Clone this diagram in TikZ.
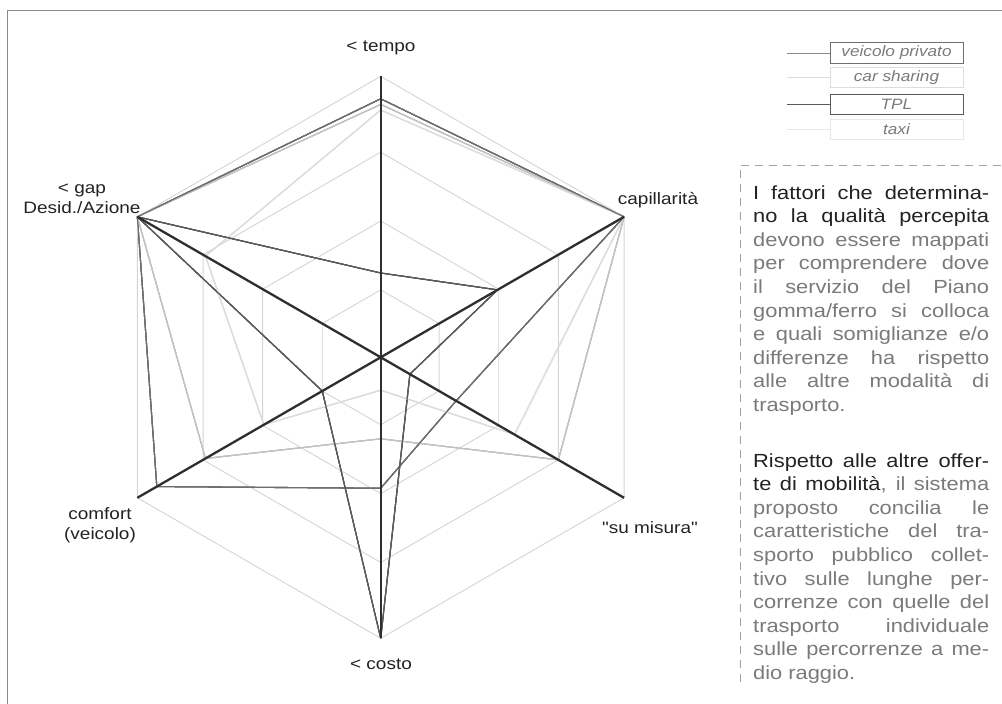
\documentclass[tikz,border=0pt]{standalone}
\usepackage{fontspec}
\setmainfont{Liberation Sans}[FakeStretch=1.15]
\font\quotefont="Liberation Sans:extend=1.15" at 16.5pt
\definecolor{framegray}{HTML}{8A8A8A}
\definecolor{gridgray}{HTML}{D4D4D4}
\definecolor{axisgray}{HTML}{2E2E2E}
\definecolor{vpgray}{HTML}{6E6E6E}
\definecolor{tplgray}{HTML}{5A5A5A}
\definecolor{csgray}{HTML}{C2C2C2}
\definecolor{taxigray}{HTML}{DDDDDD}
\definecolor{textdark}{HTML}{222222}
\definecolor{textgray}{HTML}{7A7A7A}
\definecolor{dashgray}{HTML}{A0A0A0}
\newcommand{\rad}{281}
% one polygon: tempo, capillarita, su misura, costo, comfort, gap
\newcommand{\radarline}[7]{%
  \draw[#1] (90:{#2*\rad}) -- (30:{#3*\rad}) -- (-30:{#4*\rad}) -- (-90:{#5*\rad})
    -- (210:{#6*\rad}) -- (150:{#7*\rad}) -- cycle;}
\begin{document}
\begin{tikzpicture}[x=1pt, y=-1pt,
    grid/.style={draw=gridgray, line width=0.9pt},
    axis/.style={draw=axisgray, line width=2.3pt},
    serie/.style={line width=1.1pt, line join=round},
    lbl/.style={font=\fontsize{16.5}{19.5}\selectfont, text=textdark, inner sep=1pt},
    legbox/.style={draw, line width=1pt, minimum width=133pt, minimum height=20.5pt, inner sep=0pt,
        font=\fontsize{15}{17}\selectfont\itshape, text=textgray},
    legline/.style={line width=1pt},
    para/.style={anchor=base west, inner sep=0pt, text width=236pt, align=justify,
        font=\fontsize{19}{23.6}\selectfont}
]
\useasboundingbox (0,0) rectangle (1002,704);

% Frame
\draw[framegray, line width=1pt] (7.5,704) -- (7.5,10) -- (1002,10);

% Radar chart
\begin{scope}[shift={(380.7,357.3)}, yscale=-1]
  \coordinate (ctr) at (0,0);
  \coordinate (atempo) at (90:\rad);
  \coordinate (acap) at (30:\rad);
  \coordinate (asu) at (-30:\rad);
  \coordinate (acosto) at (-90:\rad);
  \coordinate (acomf) at (210:\rad);
  \coordinate (agap) at (150:\rad);
  % rings
  \foreach \k in {0.24,0.485,0.73,1}
    \radarline{grid}{\k}{\k}{\k}{\k}{\k}{\k}
  % series
  \radarline{serie, draw=taxigray}{0.88}{1}{0.55}{0.117}{0.48}{0.72}
  \radarline{serie, draw=csgray}{0.90}{1}{0.73}{0.29}{0.72}{1}
  \radarline{serie, draw=vpgray}{0.92}{1}{0.31}{0.466}{0.92}{1}
  \radarline{serie, draw=tplgray}{0.30}{0.48}{0.12}{1}{0.24}{1}
  % axes
  \draw[axis] (ctr) -- (atempo);
  \draw[axis] (ctr) -- (acap);
  \draw[axis] (ctr) -- (asu);
  \draw[axis] (ctr) -- (acosto);
  \draw[axis] (ctr) -- (acomf);
  \draw[axis] (ctr) -- (agap);
\end{scope}

% Axis labels
\node[lbl] (ltempo) at (381,48) {< tempo};
\node[lbl] (lcap) at (658,200) {capillarità};
\node[lbl, align=center] (lgap) at (82,199) {< gap\\Desid./Azione};
\node[lbl, align=center] (lcomf) at (100,525) {comfort\\(veicolo)};
\node[lbl] (lcosto) at (381,664) {< costo};
\node[lbl] (lsu) at (650,528) {{\quotefont"}su misura{\quotefont"}};

% Legend
\node[legbox, draw=vpgray] (lgvp) at (896.5,53) {veicolo privato};
\node[legbox, draw=taxigray] (lgcs) at (896.5,77.5) {car sharing};
\node[legbox, draw=tplgray] (lgtpl) at (896.5,104.5) {TPL};
\node[legbox, draw=taxigray!70!white] (lgtx) at (896.5,129.5) {taxi};
\coordinate (svp) at (787,53);
\coordinate (scs) at (787,77.5);
\coordinate (stpl) at (787,104.5);
\coordinate (stx) at (787,129.5);
\draw[legline, vpgray!80!white] (svp) -- (lgvp.west);
\draw[legline, taxigray] (scs) -- (lgcs.west);
\draw[legline, tplgray] (stpl) -- (lgtpl.west);
\draw[legline, taxigray!70!white] (stx) -- (lgtx.west);

% Text box
\draw[dashgray, line width=1pt, dash pattern=on 8pt off 6pt] (740,682) -- (740,165) -- (1002,165);
\node[para] (ptxt1) at (753,199) {\color{textdark}I fattori che determina-\linebreak
no la qualità percepita\linebreak
\color{textgray}devono essere mappati\linebreak
per comprendere dove\linebreak
il servizio del Piano\linebreak
gomma/ferro si colloca\linebreak
e quali somiglianze e/o\linebreak
differenze ha rispetto\linebreak
alle altre modalità di\linebreak
trasporto.};
\node[para] (ptxt2) at (753,467) {\color{textdark}Rispetto alle altre offer-\linebreak
te di mobilità\color{textgray}, il sistema\linebreak
proposto concilia le\linebreak
caratteristiche del tra-\linebreak
sporto pubblico collet-\linebreak
tivo sulle lunghe per-\linebreak
correnze con quelle del\linebreak
trasporto individuale\linebreak
sulle percorrenze a me-\linebreak
dio raggio.};
\end{tikzpicture}
\end{document}
